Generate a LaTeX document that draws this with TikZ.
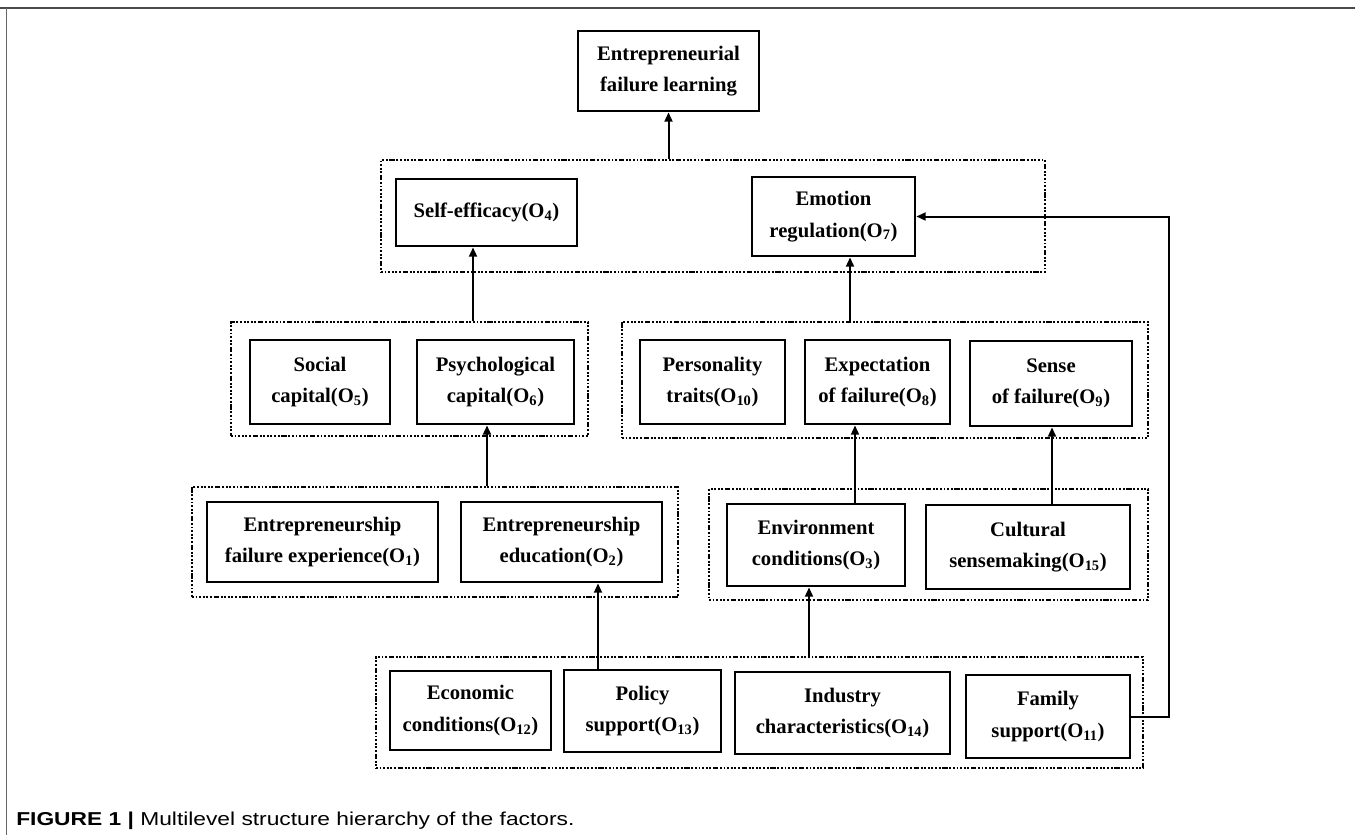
\documentclass[tikz,border=0pt]{standalone}
\usepackage{fontspec}
\setmainfont{Liberation Serif}
\setsansfont{Liberation Sans}
\usetikzlibrary{fit,arrows.meta}
\begin{document}
\begin{tikzpicture}[x=0.75pt,y=-0.75pt,
  box/.style={draw, line width=2.1pt, inner sep=0pt, align=center,
    font=\bfseries\fontsize{15.5}{23.5}\selectfont},
  grp/.style={draw, line width=1.5pt, inner sep=0pt,
    dash pattern=on 1.4pt off 1.3pt on 1.4pt off 1.3pt on 1.4pt off 1.3pt on 1.4pt off 1.3pt on 1.4pt off 1.3pt on 1.4pt off 1.3pt on 4pt off 1.3pt},
  arr/.style={line width=1.5pt, -{Triangle[length=7pt,width=6pt]}},
  frame/.style={line width=1.4pt, black!70}]
\useasboundingbox (0,0) rectangle (1355,835);
% frame
\draw[frame] (0,8) -- (1355,8);
\draw[frame, line width=0.9pt, black!60] (6.5,8) -- (6.5,835);

% groups
\node[grp, fit={(381,160) (1045,272)}] (gA) {};
\node[grp, fit={(231,322) (588,436)}] (gB) {};
\node[grp, fit={(622,322) (1148,438)}] (gC) {};
\node[grp, fit={(192,487) (678,597)}] (gD) {};
\node[grp, fit={(709,489) (1148,600)}] (gE) {};
\node[grp, fit={(376,657) (1143,768)}] (gF) {};

% boxes
\node[box, minimum width=181*0.75pt, minimum height=80*0.75pt] (top) at (668.5,71) {Entrepreneurial\\failure learning};
\node[box, minimum width=181*0.75pt, minimum height=67*0.75pt] (se) at (486.5,212.5) {Self-efficacy(O\textsubscript{4})};
\node[box, minimum width=163*0.75pt, minimum height=79*0.75pt] (er) at (833.5,216.5) {Emotion\\regulation(O\textsubscript{7})};

\node[box, minimum width=140*0.75pt, minimum height=84*0.75pt] (soc) at (320,382) {Social\\capital(O\textsubscript{5})};
\node[box, minimum width=157*0.75pt, minimum height=84*0.75pt] (psy) at (495.5,382) {Psychological\\capital(O\textsubscript{6})};
\node[box, minimum width=145*0.75pt, minimum height=84*0.75pt] (per) at (712.5,382) {Personality\\traits(O\textsubscript{10})};
\node[box, minimum width=145*0.75pt, minimum height=84*0.75pt] (exp) at (877.5,382) {Expectation\\of failure(O\textsubscript{8})};
\node[box, minimum width=162*0.75pt, minimum height=85*0.75pt] (sen) at (1051,383.5) {Sense\\of failure(O\textsubscript{9})};

\node[box, minimum width=231*0.75pt, minimum height=80*0.75pt] (efe) at (322.5,542) {Entrepreneurship\\failure experience(O\textsubscript{1})};
\node[box, minimum width=201*0.75pt, minimum height=80*0.75pt] (ee) at (561.5,542) {Entrepreneurship\\education(O\textsubscript{2})};
\node[box, minimum width=178*0.75pt, minimum height=82*0.75pt] (env) at (816,545) {Environment\\conditions(O\textsubscript{3})};
\node[box, minimum width=204*0.75pt, minimum height=84*0.75pt] (cul) at (1028,547) {Cultural\\sensemaking(O\textsubscript{15})};

\node[box, minimum width=161*0.75pt, minimum height=79*0.75pt] (eco) at (470.5,710.5) {Economic\\conditions(O\textsubscript{12})};
\node[box, minimum width=157*0.75pt, minimum height=82*0.75pt] (pol) at (642.5,711) {Policy\\support(O\textsubscript{13})};
\node[box, minimum width=215*0.75pt, minimum height=82*0.75pt] (ind) at (842.5,713) {Industry\\characteristics(O\textsubscript{14})};
\node[box, minimum width=164*0.75pt, minimum height=83*0.75pt] (fam) at (1048,716.5) {Family\\support(O\textsubscript{11})};

% arrow x positions
\coordinate (xa) at (473,0);
\coordinate (xb) at (850,0);
\coordinate (xc) at (487,0);
\coordinate (xd) at (855,0);
\coordinate (xe) at (1052,0);
\coordinate (xf) at (598,0);
\coordinate (xg) at (809,0);
\coordinate (fb) at (1169,0);

% connectors
\draw[arr] (gA.north -| top.south) -- (top.south);
\draw[arr] (gB.north -| xa) -- (se.south -| xa);
\draw[arr] (gC.north -| xb) -- (er.south -| xb);
\draw[arr] (gD.north -| xc) -- (psy.south -| xc);
\draw[arr] (env.north -| xd) -- (exp.south -| xd);
\draw[arr] (cul.north -| xe) -- (sen.south -| xe);
\draw[arr] (pol.north -| xf) -- (ee.south -| xf);
\draw[arr] (gF.north -| xg) -- (env.south -| xg);
\draw[arr] (fam.east) -- (fam.east -| fb) -- (er.east -| fb) -- (er.east);

% caption
\node[anchor=base west, inner sep=0pt, font=\sffamily\fontsize{14}{16}\selectfont] (cap) at (16,825)
  {\scalebox{1.22}[1]{\textbf{FIGURE 1 |} Multilevel structure hierarchy of the factors.}};
\end{tikzpicture}
\end{document}
